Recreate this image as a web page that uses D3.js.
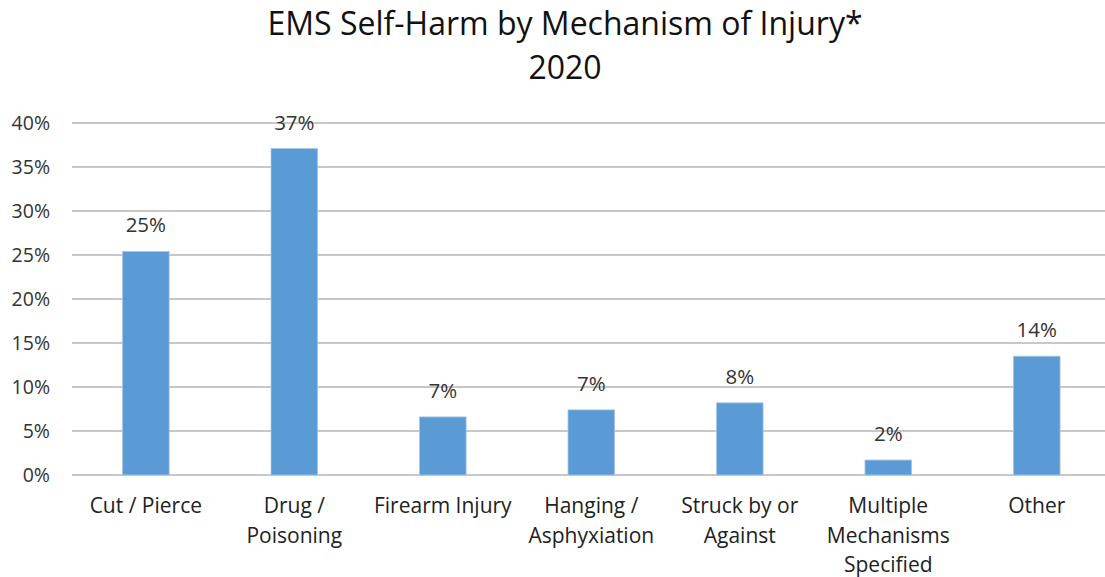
<!DOCTYPE html>
<html><head><meta charset="utf-8">
<script src="https://cdn.jsdelivr.net/npm/d3@7"></script>
<style>body{margin:0;background:#fff;} text{font-family:"Open Sans","Noto Sans",sans-serif;}</style>
</head><body>
<svg id="chart" width="1105" height="577"></svg>
<script>
const categories = [["Cut / Pierce"],["Drug /","Poisoning"],["Firearm Injury"],["Hanging /","Asphyxiation"],["Struck by or","Against"],["Multiple","Mechanisms","Specified"],["Other"]];
const values = [25.4, 37.1, 6.6, 7.4, 8.2, 1.7, 13.5];
const valueLabels = ["25%","37%","7%","7%","8%","2%","14%"];
const yTicks = [0,5,10,15,20,25,30,35,40];
const titleLines = ["EMS Self-Harm by Mechanism of Injury*","2020"];

const svg = d3.select("#chart");
const mLeft = 72, mRight = 1105, bandRight = 1111, mTop = 123, mBottom = 475;
const x = d3.scaleBand().domain(d3.range(categories.length)).range([mLeft - 0.4, bandRight]).paddingInner(0.686).paddingOuter(0.343);
const y = d3.scaleLinear().domain([0,40]).range([mBottom, mTop]);

svg.append("g").selectAll("line").data(yTicks).join("line")
  .attr("x1", mLeft).attr("x2", mRight)
  .attr("y1", d=>y(d)).attr("y2", d=>y(d))
  .attr("stroke", "#c8c8c8").attr("stroke-width", 2);

svg.append("g").selectAll("text").data(yTicks).join("text")
  .attr("x", 50).attr("y", d=>y(d)).attr("dy","0.36em")
  .attr("text-anchor","end").attr("font-size",19.5).attr("fill","#333")
  .text(d=>d+"%");

svg.append("g").selectAll("rect").data(values).join("rect")
  .attr("x",(d,i)=>x(i)).attr("width",x.bandwidth())
  .attr("y",d=>y(d)).attr("height",d=>mBottom-y(d))
  .attr("fill","#5b9bd5").attr("stroke","#a9c6e6").attr("stroke-width",0.8);

svg.append("g").selectAll("text").data(values).join("text")
  .attr("x",(d,i)=>x(i)+x.bandwidth()/2).attr("y",d=>y(d)-19)
  .attr("text-anchor","middle").attr("font-size",20.5).attr("fill","#333")
  .text((d,i)=>valueLabels[i]);

const cat = svg.append("g").selectAll("text").data(categories).join("text")
  .attr("x",(d,i)=>x(i)+x.bandwidth()/2).attr("y",513)
  .attr("text-anchor","middle").attr("font-size",21).attr("fill","#222");
cat.selectAll("tspan").data(d=>d).join("tspan")
  .attr("x",function(){return this.parentNode.getAttribute("x");})
  .attr("dy",(d,i)=>i===0?0:29.5).text(d=>d);

svg.append("g").selectAll("text").data(titleLines).join("text")
  .attr("x",565).attr("y",(d,i)=>35+i*44)
  .attr("text-anchor","middle").attr("font-size",32).attr("fill","#111")
  .text(d=>d);
</script>
</body></html>
